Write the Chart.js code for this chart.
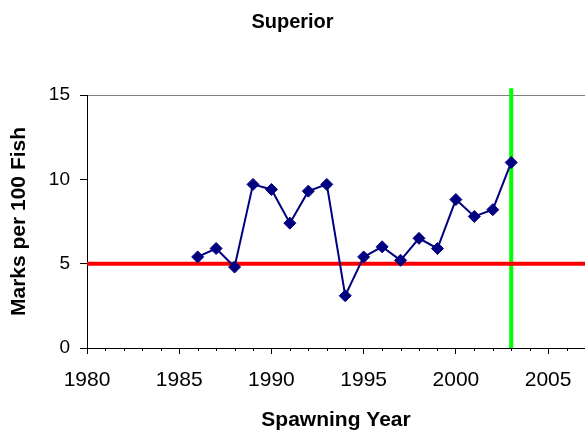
<!DOCTYPE html>
<html>
<head>
<meta charset="utf-8">
<script src="https://cdn.jsdelivr.net/npm/chart.js@4/dist/chart.umd.min.js"></script>
<style>
  html, body { margin: 0; padding: 0; background: #fff; }
  canvas { display: block; }
</style>
</head>
<body>
<canvas id="c" width="585" height="431"></canvas>
<script>
// ---- data ----
const years = [1986, 1987, 1988, 1989, 1990, 1991, 1992, 1993, 1994, 1995, 1996, 1997, 1998, 1999, 2000, 2001, 2002, 2003];
const marks = [5.4, 5.9, 4.8, 9.7, 9.4, 7.4, 9.3, 9.7, 3.1, 5.4, 6.0, 5.2, 6.5, 5.9, 8.8, 7.8, 8.2, 11.0];
const targetLevel = 5;              // red reference line
const refLineYears = [1980, 2007];  // span of red line
const markerYear = 2003;            // green vertical line
const markerSpan = [0, 15.4];
const xRange = [1980, 2007];
const yRange = [0, 15];
const chartTitle = 'Superior';
const xTitle = 'Spawning Year';
const yTitle = 'Marks per 100 Fish';

const FONT = "'Liberation Sans', Arial, Helvetica, sans-serif";

const minorTicks = {
  id: 'minorTicks',
  afterDraw(chart) {
    const xs = chart.scales.x;
    const ctx = chart.ctx;
    ctx.save();
    ctx.strokeStyle = '#000';
    ctx.lineWidth = 1;
    for (let v = xRange[0]; v <= xRange[1]; v++) {
      if (v % 5 === 0) continue;
      const px = Math.round(xs.getPixelForValue(v)) + 0.5;
      ctx.beginPath();
      ctx.moveTo(px, xs.top);
      ctx.lineTo(px, xs.top + 3);
      ctx.stroke();
    }
    ctx.restore();
  }
};

new Chart(document.getElementById('c'), {
  type: 'scatter',
  data: {
    datasets: [
      {
        label: 'Marks',
        data: years.map((y, i) => ({ x: y, y: marks[i] })),
        showLine: true,
        borderColor: '#000080',
        borderWidth: 2,
        pointStyle: 'rectRot',
        pointRadius: 6,
        pointBackgroundColor: '#000080',
        pointBorderColor: '#000080',
        pointBorderWidth: 1,
        tension: 0
      },
      {
        label: 'Target',
        data: refLineYears.map(y => ({ x: y, y: targetLevel })),
        showLine: true,
        borderColor: '#ff0000',
        borderWidth: 4,
        pointRadius: 0
      },
      {
        label: 'Marker',
        data: markerSpan.map(v => ({ x: markerYear, y: v })),
        showLine: true,
        borderColor: '#00ff00',
        borderWidth: 4,
        pointRadius: 0,
        clip: false
      }
    ]
  },
  options: {
    responsive: false,
    animation: false,
    devicePixelRatio: 1,
    layout: { padding: 0, autoPadding: false },
    plugins: {
      legend: { display: false },
      tooltip: { enabled: false },
      title: {
        display: true,
        text: chartTitle,
        color: '#000',
        font: { family: FONT, size: 20, weight: 'bold' },
        padding: { top: 10, bottom: 61 }
      }
    },
    scales: {
      x: {
        type: 'linear',
        min: xRange[0],
        max: xRange[1],
        afterFit(scale) { scale.height = 83; scale.paddingRight = 0; scale.paddingLeft = 0; },
        border: { display: true, color: '#000', width: 1 },
        grid: {
          drawOnChartArea: false,
          drawTicks: true,
          tickLength: 6,
          tickColor: (c) => (c.tick && c.tick.value % 5 === 0) ? '#000' : 'rgba(0,0,0,0)'
        },
        ticks: {
          stepSize: 1,
          autoSkip: false,
          maxRotation: 0,
          padding: 14,
          color: '#000',
          font: { family: FONT, size: 21 },
          callback: (v) => (v % 5 === 0 ? String(v) : '')
        },
        title: {
          display: true,
          text: xTitle,
          color: '#000',
          font: { family: FONT, size: 21, weight: 'bold', lineHeight: 1 },
          padding: { top: 0, bottom: 0 }
        }
      },
      y: {
        min: yRange[0],
        max: yRange[1],
        afterFit(scale) { scale.width = 87; scale.paddingTop = 0; scale.paddingBottom = 0; },
        border: { display: true, color: '#000', width: 1 },
        grid: {
          drawOnChartArea: true,
          tickLength: 7,
          tickColor: '#000',
          color: (c) => (c.tick && c.tick.value === yRange[1]) ? '#808080' : 'rgba(0,0,0,0)'
        },
        ticks: {
          stepSize: 5,
          padding: 10,
          color: '#000',
          font: { family: FONT, size: 19 }
        },
        title: {
          display: true,
          text: yTitle,
          color: '#000',
          font: { family: FONT, size: 21, weight: 'bold' },
          padding: { top: 7, bottom: 0 }
        }
      }
    }
  },
  plugins: [minorTicks]
});
</script>
</body>
</html>
